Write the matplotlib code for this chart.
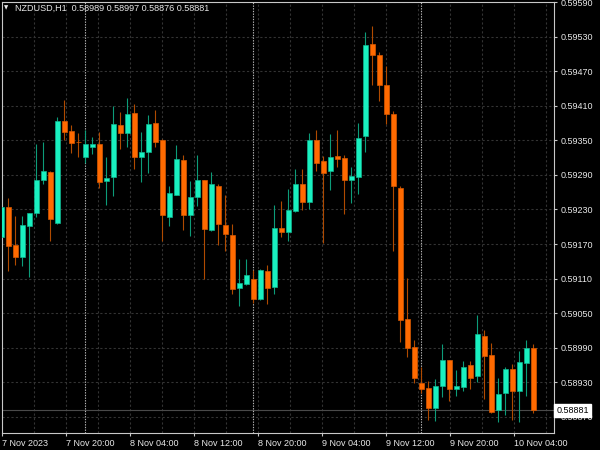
#!/usr/bin/env python3

import numpy as np
import matplotlib
matplotlib.use('Agg')
import matplotlib.pyplot as plt

# NZDUSD H1 bars, oldest first
opens = [0.59182, 0.59235, 0.59169, 0.59147, 0.59202, 0.59223, 0.59282, 0.59295,
         0.59207, 0.59383, 0.59366, 0.59348, 0.59322, 0.59339, 0.59343, 0.59280,
         0.59286, 0.59377, 0.59362, 0.59397, 0.59321, 0.59330, 0.59381, 0.59351,
         0.59217, 0.59256, 0.59316, 0.59221, 0.59252, 0.59281, 0.59194, 0.59271,
         0.59203, 0.59185, 0.59094, 0.59101, 0.59109, 0.59074, 0.59123, 0.59096,
         0.59198, 0.59190, 0.59227, 0.59274, 0.59243, 0.59351, 0.59314, 0.59296,
         0.59323, 0.59320, 0.59281, 0.59287, 0.59358, 0.59517, 0.59498, 0.59447,
         0.59396, 0.59268, 0.59040, 0.58991, 0.58929, 0.58920, 0.58886, 0.58924,
         0.58968, 0.58919, 0.58922, 0.58960, 0.58940, 0.59010, 0.58977, 0.58882,
         0.58911, 0.58953, 0.58915, 0.58964, 0.58989]
highs = [0.59267, 0.59250, 0.59219, 0.59218, 0.59224, 0.59343, 0.59347, 0.59297,
         0.59390, 0.59420, 0.59377, 0.59363, 0.59368, 0.59356, 0.59364, 0.59321,
         0.59410, 0.59400, 0.59423, 0.59414, 0.59364, 0.59394, 0.59403, 0.59352,
         0.59271, 0.59342, 0.59325, 0.59279, 0.59325, 0.59282, 0.59295, 0.59274,
         0.59255, 0.59204, 0.59144, 0.59144, 0.59125, 0.59126, 0.59133, 0.59237,
         0.59245, 0.59265, 0.59300, 0.59300, 0.59362, 0.59368, 0.59323, 0.59361,
         0.59368, 0.59325, 0.59304, 0.59381, 0.59539, 0.59549, 0.59503, 0.59480,
         0.59401, 0.59270, 0.59111, 0.59003, 0.58957, 0.58932, 0.58935, 0.58996,
         0.58969, 0.58951, 0.58966, 0.58966, 0.59046, 0.59020, 0.58998, 0.58937,
         0.58957, 0.58962, 0.58984, 0.59003, 0.58997]
lows = [0.59151, 0.59123, 0.59133, 0.59132, 0.59113, 0.59217, 0.59275, 0.59176,
        0.59205, 0.59351, 0.59328, 0.59321, 0.59311, 0.59326, 0.59268, 0.59237,
        0.59254, 0.59335, 0.59339, 0.59300, 0.59278, 0.59293, 0.59339, 0.59175,
        0.59202, 0.59255, 0.59194, 0.59184, 0.59236, 0.59110, 0.59193, 0.59168,
        0.59157, 0.59083, 0.59063, 0.59098, 0.59068, 0.59073, 0.59066, 0.59083,
        0.59183, 0.59176, 0.59226, 0.59229, 0.59230, 0.59296, 0.59171, 0.59263,
        0.59303, 0.59222, 0.59242, 0.59257, 0.59330, 0.59446, 0.59419, 0.59378,
        0.59158, 0.59000, 0.58974, 0.58929, 0.58911, 0.58864, 0.58862, 0.58904,
        0.58897, 0.58906, 0.58915, 0.58918, 0.58931, 0.58900, 0.58876, 0.58861,
        0.58873, 0.58864, 0.58861, 0.58906, 0.58876]
closes = [0.59235, 0.59167, 0.59148, 0.59203, 0.59224, 0.59281, 0.59297, 0.59214,
          0.59384, 0.59364, 0.59345, 0.59347, 0.59343, 0.59344, 0.59277, 0.59285,
          0.59378, 0.59362, 0.59396, 0.59322, 0.59330, 0.59378, 0.59348, 0.59221,
          0.59258, 0.59317, 0.59220, 0.59251, 0.59281, 0.59196, 0.59274, 0.59205,
          0.59187, 0.59091, 0.59103, 0.59116, 0.59075, 0.59124, 0.59094, 0.59198,
          0.59190, 0.59229, 0.59275, 0.59243, 0.59351, 0.59310, 0.59294, 0.59322,
          0.59317, 0.59281, 0.59288, 0.59355, 0.59516, 0.59499, 0.59446, 0.59395,
          0.59270, 0.59038, 0.58990, 0.58938, 0.58919, 0.58885, 0.58923, 0.58968,
          0.58919, 0.58923, 0.58957, 0.58938, 0.59013, 0.58975, 0.58879, 0.58909,
          0.58953, 0.58915, 0.58965, 0.58989, 0.58881]

day_starts = [12, 36, 60]  # bar index of each new day
price_ticks = [0.58870, 0.58930, 0.58990, 0.59050, 0.59110, 0.59170, 0.59230,
               0.59290, 0.59350, 0.59410, 0.59470, 0.59530, 0.59590]
time_labels = ['7 Nov 2023', '7 Nov 20:00', '8 Nov 04:00', '8 Nov 12:00',
               '8 Nov 20:00', '9 Nov 04:00', '9 Nov 12:00', '9 Nov 20:00',
               '10 Nov 04:00']
header = 'NZDUSD,H1  0.58989 0.58997 0.58876 0.58881'

BULL, BULL_WICK, BULL_EDGE = '#19f0c0', '#0c9c79', '#10b48e'
BEAR, BEAR_WICK, BEAR_EDGE = '#ff6a00', '#b04a00', '#d85800'
FG = '#e8e8e8'
GRID = '#333333'
FONT = 'Liberation Sans'


def main():
    o, h, l, c = (np.array(a) for a in (opens, highs, lows, closes))
    x = np.arange(len(o))
    up = c >= o

    fig = plt.figure(figsize=(6, 4.5), dpi=100, facecolor='black')
    ax = fig.add_axes([1.7 / 600, 16.7 / 450, 552.3 / 600, 431.6 / 450])
    ax.set_facecolor('black')

    # wicks
    ax.vlines(x[up], l[up], h[up], color=BULL_WICK, lw=0.8, zorder=3)
    ax.vlines(x[~up], l[~up], h[~up], color=BEAR_WICK, lw=0.8, zorder=3)
    # bodies
    body = np.maximum(np.abs(c - o), 0.000004)
    ax.bar(x[up], body[up], bottom=np.minimum(o, c)[up], width=0.64,
           color=BULL, edgecolor=BULL_EDGE, linewidth=0.5, zorder=4)
    ax.bar(x[~up], body[~up], bottom=np.minimum(o, c)[~up], width=0.64,
           color=BEAR, edgecolor=BEAR_EDGE, linewidth=0.5, zorder=4)

    # day separators and bid line
    for d in day_starts:
        ax.axvline(d, color='#b8b8b8', lw=0.8, ls=(0, (1.2, 1.2)), zorder=2)
    ax.axhline(closes[-1], color='#4a4a4a', lw=0.8, zorder=1)

    ax.set_xlim(0.06, 78.96)
    ax.set_ylim(0.588412, 0.595909)

    # time axis: a label every 64 px, grid every 32 px (bars are 7 px apart)
    step = 64 / 7
    ticks = 0.06 + step * np.arange(len(time_labels))
    ax.set_xticks(ticks)
    ax.set_xticklabels(time_labels, ha='left', fontsize=6.5, family=FONT,
                       color=FG)
    ax.set_xticks(ticks + step / 2, minor=True)
    ax.tick_params(axis='x', which='major', length=2.5, pad=1.5, color='#c8c8c8')
    ax.tick_params(axis='x', which='minor', length=0)

    ax.yaxis.tick_right()
    ax.set_yticks(price_ticks)
    ax.set_yticklabels([f'{p:.5f}' for p in price_ticks], fontsize=6.5,
                       family=FONT, color=FG)
    ax.tick_params(axis='y', length=2.5, pad=2, color='#c8c8c8')

    ax.grid(True, which='both', axis='x', color=GRID, lw=0.8,
            ls=(0, (2, 2)))
    ax.grid(True, which='major', axis='y', color=GRID, lw=0.8,
            ls=(0, (2, 2)))
    ax.set_axisbelow(True)
    for s in ax.spines.values():
        s.set_color('#c8c8c8')
        s.set_linewidth(0.8)

    # current price tag
    ax.text(1.004, closes[-1], f'{closes[-1]:.5f}', transform=ax.get_yaxis_transform(),
            ha='left', va='center', fontsize=6.5, family=FONT, color='black',
            bbox=dict(boxstyle='square,pad=0.2', fc='white', ec='white'),
            clip_on=False, zorder=10)

    fig.text(6 / 600, 1 - 8 / 450, '\u25bc', fontsize=4, color=FG,
             family='DejaVu Sans', ha='center', va='center')
    fig.text(15 / 600, 1 - 8 / 450, header, fontsize=6.5, family=FONT,
             color=FG, ha='left', va='center')

    fig.savefig('out.png', dpi=100, facecolor='black')


if __name__ == '__main__':
    main()
